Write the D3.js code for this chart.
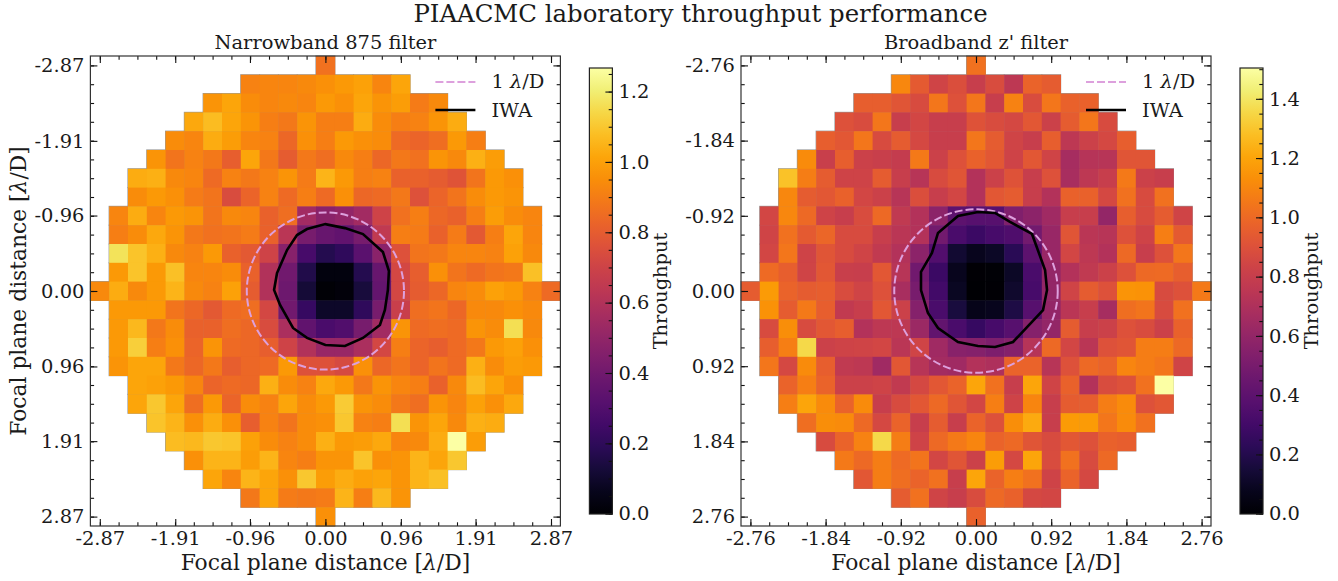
<!DOCTYPE html>
<html>
<head>
<meta charset="utf-8">
<script src="https://cdn.jsdelivr.net/npm/d3@7"></script>
<style>
  html, body { margin: 0; padding: 0; background: #fff; }
  svg { display: block; }
  text { font-family: "DejaVu Serif", serif; fill: #1a1a1a; }
</style>
</head>
<body>
<svg width="1338" height="581"></svg>
<script>
// first masked-in column of each row, the grid is left/right symmetric
var firstCol = [12, 8, 6, 5, 4, 3, 2, 2, 1, 1, 1, 1, 0, 1, 1, 1, 1, 2, 2, 3, 4, 5, 6, 8, 12];

var narrowRows = [
  [.87],
  [.92,.93,.93,.94,.96,.98,1.0,.93,1.01],
  [.97,1.01,.95,.93,.94,.93,.98,.96,1.01,.97,.99,.9,.94],
  [1.02,1.07,1.01,.97,.91,.89,.97,.91,.91,1.03,.95,.91,.92,.97,1.03],
  [.95,.93,1.03,.99,.93,.92,.84,.96,.91,.98,.96,.95,.85,.83,.86,.98,.91],
  [.97,.88,.92,.89,.81,1.01,.89,.8,.89,.86,.94,.91,.84,.89,.87,.97,.94,1.04,.99],
  [1.03,1.04,.94,.93,.85,.92,.89,.92,.97,.9,1.05,.98,.91,.92,.82,.82,.8,.77,.88,.98,.96],
  [.95,.98,.96,.9,.88,.74,.83,.92,.85,.91,.85,.96,.84,.85,.89,.76,.83,.88,.95,.98,.97],
  [.93,1.03,.93,.98,.97,.88,.94,.93,.82,.86,.55,.48,.5,.55,.7,.87,.91,.84,.82,.91,.99,.95,.93],
  [.91,.95,1.02,.97,.89,.87,.88,.9,.82,.63,.42,.37,.35,.42,.65,.91,.9,.82,.9,.79,.91,1.01,.93],
  [1.17,1.09,1.04,.94,.92,.98,.82,.79,.7,.47,.27,.17,.2,.33,.48,.76,.88,.89,.93,.93,.92,1.0,.94],
  [.98,1.09,.98,1.08,.93,.93,.95,.82,.6,.4,.16,.03,.03,.17,.37,.72,.81,.96,.88,.85,.88,.89,1.08],
  [.94,1.03,.94,.98,1.05,.94,.92,1.0,.8,.6,.39,.12,.01,.02,.13,.36,.72,.8,.84,.93,.95,1.0,.98,.92,.85],
  [.98,.98,.98,.88,.84,.79,.85,.86,.72,.4,.22,.09,.09,.2,.42,.68,.86,.88,.84,.94,.94,.96,.94],
  [.98,1.06,.89,.95,.82,.82,.86,.84,.74,.58,.35,.28,.3,.42,.55,.97,.85,.86,.85,.97,.95,1.16,.94],
  [.98,1.12,.91,.96,.83,.97,.85,.84,.81,.7,.6,.52,.52,.58,.72,.91,.83,.81,.85,.89,.98,1.0,.96],
  [.97,1.01,1.01,.89,.84,.89,.81,.84,.85,.98,.76,.76,.73,.96,.84,.88,.83,.88,.85,1.04,.95,.99,.98],
  [1.01,1.0,.98,.93,.83,.85,.84,1.04,.95,.92,1.02,.98,.89,.97,.93,.91,.82,.94,1.07,1.01,.96],
  [1.01,1.1,1.01,.86,.98,.83,.95,.92,1.01,.95,.98,1.11,.97,.95,.89,.86,.97,.93,1.0,.96,1.02],
  [1.09,1.05,.96,1.03,.96,.81,.92,.88,.95,.96,1.1,.92,.91,1.16,.97,1.01,.94,1.04,1.03],
  [1.07,1.06,1.1,1.09,1.0,.95,.92,.95,1.04,.98,.99,1.02,.93,.94,1.03,1.27,.99],
  [.96,1.05,1.05,.99,1.05,.93,.91,.97,.97,1.09,.96,.97,1.05,1.01,1.1],
  [1.01,.93,1.05,1.01,.96,1.1,.99,1.03,1.0,1.01,.97,1.05,1.08],
  [.89,1.01,.9,.89,.9,1.05,.91,1.06,.97],
  [.96]
];

var broadRows = [
  [1.03],
  [1.11,.94,.84,.89,.8,.88,.76,.98,.95],
  [.96,.96,.92,.87,1.05,.9,1.05,.8,1.09,.88,1.05,.97,.97],
  [.9,.88,1.05,.8,.85,.8,.8,.91,.88,.86,.93,.82,.95,1.05,.87],
  [.96,.93,1.05,.87,.95,.86,.8,.8,1.05,.95,.84,.8,.96,.76,.82,.86,.96],
  [1.12,.81,.96,.82,.81,.79,1.06,.82,.9,.97,.93,.83,.93,.84,.67,.73,.74,.92,.92],
  [1.29,1.07,.95,.83,.83,.95,.8,.74,.87,.92,.72,.82,.91,.8,.9,.68,.76,.8,1.06,.82,.8],
  [1.11,.95,.93,.97,.85,.82,.74,.89,.8,.85,.72,.93,.95,.8,.72,.97,.97,.86,1.03,.87,1.03],
  [.85,1.11,1.0,.83,.8,.88,1.0,.77,.72,.57,.4,.38,.38,.53,.57,.65,.8,.8,.6,.96,.87,.95,.84],
  [.84,1.03,.94,.99,.87,.87,.8,.75,.72,.48,.33,.28,.32,.35,.48,.62,.92,.75,.74,.9,.83,1.08,.94],
  [.85,1.05,.83,.92,.87,.84,.78,.72,.57,.36,.13,.08,.1,.22,.4,.62,.85,.76,.72,1.0,.8,.9,1.05],
  [1.01,.96,.84,.93,.81,.8,.93,.74,.47,.28,.08,.01,.015,.1,.33,.6,.72,.77,.82,.9,1.0,1.01,.96],
  [.95,1.17,.98,.95,.96,.88,.84,.9,.68,.5,.3,.09,.005,.01,.12,.32,.6,.84,.95,.9,1.15,1.14,.87,.9,1.06],
  [1.14,.95,1.06,.96,.78,.8,.93,.82,.55,.33,.16,.07,.08,.18,.38,.6,.75,.8,.67,1.02,1.04,.87,1.03],
  [.87,1.13,.87,.93,.96,.72,.76,.76,.63,.42,.33,.26,.32,.38,.55,.6,.95,.8,.82,.9,.88,.82,.97],
  [.96,1.08,1.36,.82,.83,.84,.85,.75,.84,.65,.56,.55,.52,.55,.73,1.0,.85,.75,.9,.92,1.07,1.07,1.0],
  [1.05,.86,1.12,.96,.77,.76,.65,.93,.74,.66,.65,.72,.7,.98,.98,.74,.9,1.0,.98,1.1,1.07,1.05,.84],
  [.98,1.08,.98,.82,.82,.83,.78,.86,.93,.98,1.2,1.03,.8,1.2,.84,.97,.72,.88,.9,1.03,1.5],
  [1.08,1.2,1.12,.98,1.12,.8,.87,.93,1.0,.92,.85,1.08,.83,1.1,.8,.95,.96,1.07,1.12,.9,.93],
  [1.02,1.13,1.12,1.0,.86,.98,.8,.95,.8,.98,.9,1.13,1.22,.8,1.17,1.17,1.05,1.12,1.03],
  [.87,.98,1.09,1.36,1.07,.83,1.0,1.06,1.1,.98,1.0,.92,.87,.93,.9,.97,.96],
  [1.06,1.0,1.07,1.01,1.04,.85,.92,.82,1.18,.86,1.2,.88,1.03,.87,1.0],
  [.93,1.07,1.02,.98,1.03,.8,1.2,.98,1.08,1.03,.83,.98,.86],
  [.95,1.03,.84,.8,.88,1.0,.97,.86,.85],
  [.97]
];

var narrowTicks = ["-2.87", "-1.91", "-0.96", "0.00", "0.96", "1.91", "2.87"];
var broadTicks = ["-2.76", "-1.84", "-0.92", "0.00", "0.92", "1.84", "2.76"];

// IWA contours in lambda/D
var narrowIwaX = [-.615,-.488,-.361,-.234,0,.249,.478,.732,.808,.795,.757,.694,.478,.249,0,-.234,-.412,-.577,-.653];
var narrowIwaY = [-.229,-.521,-.712,-.788,-.851,-.8,-.724,-.496,-.254,-.013,.241,.432,.597,.699,.686,.597,.47,.178,-.013];
var broadIwaX = [-.673,-.539,-.465,-.22,.024,.233,.416,.685,.845,.869,.82,.453,.233,.024,-.22,-.465,-.588,-.673];
var broadIwaY = [-.233,-.465,-.71,-.918,-.967,-.955,-.845,-.698,-.257,-.012,.233,.624,.685,.673,.624,.453,.269,-.012];

var narrowMax = 1.267, broadMax = 1.504;
var narrowCbTicks = [0, .2, .4, .6, .8, 1.0, 1.2];
var broadCbTicks = [0, .2, .4, .6, .8, 1.0, 1.2, 1.4];

var svg = d3.select("svg");
var defs = svg.append("defs");
var nCells = 25;
var plotTop = 56, plotSize = 470;
var fs = 19.44;

function drawPanel(opt) {
    var step = +opt.ticks[6] / 12;
    var half = step * nCells / 2;
    var x = d3.scaleLinear().domain([-half, half]).range([opt.left, opt.left + plotSize]);
    var y = d3.scaleLinear().domain([-half, half]).range([plotTop, plotTop + plotSize]);
    var color = d3.scaleSequential(d3.interpolateInferno).domain([0, opt.vmax]);

    var cells = [];
    opt.rows.forEach(function(row, r) {
        row.forEach(function(v, i) {
            cells.push({r: r, c: firstCol[r] + i, v: v});
        });
    });
    var cx = function(c) { return (c - 12) * step; };
    var w = x(step) - x(0);

    var g = svg.append("g");
    // thin grey outline round the masked area
    g.selectAll(".edge").data(cells).enter().append("rect")
        .attr("x", function(d) { return x(cx(d.c) - step / 2); })
        .attr("y", function(d) { return y(cx(d.r) - step / 2); })
        .attr("width", w).attr("height", w)
        .attr("fill", "none").attr("stroke", "#999").attr("stroke-width", 1.2);
    g.selectAll(".cell").data(cells).enter().append("rect")
        .attr("x", function(d) { return x(cx(d.c) - step / 2); })
        .attr("y", function(d) { return y(cx(d.r) - step / 2); })
        .attr("width", w + .4).attr("height", w + .4)
        .attr("fill", function(d) { return color(d.v); });

    // 1 lambda/D circle and IWA contour
    g.append("circle")
        .attr("cx", x(0)).attr("cy", y(0)).attr("r", x(1) - x(0))
        .attr("fill", "none").attr("stroke", "#dda0dd").attr("stroke-width", 2)
        .attr("stroke-dasharray", "8,3");
    var line = d3.line().x(function(d) { return x(d[0]); }).y(function(d) { return y(d[1]); });
    g.append("path")
        .attr("d", line(d3.zip(opt.iwaX, opt.iwaY)) + "Z")
        .attr("fill", "none").attr("stroke", "#000").attr("stroke-width", 2.6);

    // ticks point inwards on all four sides
    var major = opt.ticks.map(Number);
    var minor = d3.range(nCells).map(function(c) { return cx(c); });
    var labelOf = function(d) { return opt.ticks[major.indexOf(d)]; };
    function addAxis(axisFn, scale, tx, ty) {
        [[minor, 3.7], [major, 7]].forEach(function(t) {
            var a = svg.append("g").attr("transform", "translate(" + tx + "," + ty + ")")
                .call(axisFn(scale).tickValues(t[0]).tickSize(-t[1]).tickFormat(""));
            a.select(".domain").remove();
            a.selectAll("line").attr("stroke", "#111").attr("stroke-width", 1.1);
        });
    }
    addAxis(d3.axisBottom, x, 0, plotTop + plotSize);
    addAxis(d3.axisTop, x, 0, plotTop);
    addAxis(d3.axisLeft, y, opt.left, 0);
    addAxis(d3.axisRight, y, opt.left + plotSize, 0);
    // labels are drawn separately because tick direction and label side are opposite
    var xl = svg.append("g").attr("transform", "translate(0," + (plotTop + plotSize) + ")")
        .call(d3.axisBottom(x).tickValues(major).tickSize(0).tickPadding(5).tickFormat(labelOf));
    xl.select(".domain").remove();
    var yl = svg.append("g").attr("transform", "translate(" + opt.left + ",0)")
        .call(d3.axisLeft(y).tickValues(major).tickSize(0).tickPadding(6).tickFormat(labelOf));
    yl.select(".domain").remove();
    xl.selectAll("text").attr("font-size", fs);
    yl.selectAll("text").attr("font-size", fs);

    svg.append("rect")
        .attr("x", opt.left).attr("y", plotTop).attr("width", plotSize).attr("height", plotSize)
        .attr("fill", "none").attr("stroke", "#333").attr("stroke-width", 1.2);

    // subplot title
    svg.append("text").attr("x", opt.left + plotSize / 2).attr("y", 48.5)
        .attr("text-anchor", "middle").attr("font-size", fs).text(opt.title);

    // x label
    axisText(svg.append("text").attr("x", opt.left + plotSize / 2).attr("y", 570)
        .attr("text-anchor", "middle").attr("font-size", 21.8));

    // legend
    var lx = opt.left + 345;
    svg.append("line").attr("x1", lx).attr("x2", lx + 40).attr("y1", 82).attr("y2", 82)
        .attr("stroke", "#dda0dd").attr("stroke-width", 2).attr("stroke-dasharray", "8,3");
    svg.append("line").attr("x1", lx).attr("x2", lx + 40).attr("y1", 110).attr("y2", 110)
        .attr("stroke", "#000").attr("stroke-width", 2.6);
    var t1 = svg.append("text").attr("x", lx + 56).attr("y", 88).attr("font-size", fs);
    t1.append("tspan").text("1 ");
    t1.append("tspan").attr("font-style", "italic").text("\u03bb");
    t1.append("tspan").text("/D");
    svg.append("text").attr("x", lx + 56).attr("y", 117).attr("font-size", fs).text("IWA");

    // colorbar
    var cbX = opt.left + plotSize + 29, cbW = 23, cbTop = 68, cbBottom = 514;
    var cy = d3.scaleLinear().domain([0, opt.vmax]).range([cbBottom - .3, cbTop]);
    var gradId = "grad" + Math.round(opt.left);
    var grad = defs.append("linearGradient").attr("id", gradId)
        .attr("x1", 0).attr("x2", 0).attr("y1", 1).attr("y2", 0);
    d3.range(0, 1.0001, .05).forEach(function(t) {
        grad.append("stop").attr("offset", t).attr("stop-color", d3.interpolateInferno(t));
    });
    svg.append("rect").attr("x", cbX).attr("y", cbTop).attr("width", cbW).attr("height", cbBottom - cbTop)
        .attr("fill", "url(#" + gradId + ")");
    [[d3.range(0, opt.vmax, .05), 3.7], [opt.cbTicks, 7]].forEach(function(t) {
        var a = svg.append("g").attr("transform", "translate(" + (cbX + cbW) + ",0)")
            .call(d3.axisLeft(cy).tickValues(t[0]).tickSize(t[1]).tickFormat(""));
        a.select(".domain").remove();
        a.selectAll("line").attr("stroke", "#111").attr("stroke-width", 1.1);
    });
    var cl = svg.append("g").attr("transform", "translate(" + (cbX + cbW) + ",0)")
        .call(d3.axisRight(cy).tickValues(opt.cbTicks).tickSize(0).tickPadding(6).tickFormat(d3.format(".1f")));
    cl.select(".domain").remove();
    cl.selectAll("text").attr("font-size", fs);
    svg.append("rect").attr("x", cbX).attr("y", cbTop).attr("width", cbW).attr("height", cbBottom - cbTop)
        .attr("fill", "none").attr("stroke", "#222").attr("stroke-width", 1.2);
    svg.append("text")
        .attr("transform", "translate(" + (cbX + cbW + 55) + ",291) rotate(-90)")
        .attr("text-anchor", "middle").attr("font-size", fs).text("Throughput");
}

function axisText(sel) {
    sel.append("tspan").text("Focal plane distance [");
    sel.append("tspan").attr("font-style", "italic").text("\u03bb");
    sel.append("tspan").text("/D]");
}

drawPanel({left: 90.4, rows: narrowRows, ticks: narrowTicks, vmax: narrowMax, cbTicks: narrowCbTicks,
    iwaX: narrowIwaX, iwaY: narrowIwaY, title: "Narrowband 875 filter"});
drawPanel({left: 741, rows: broadRows, ticks: broadTicks, vmax: broadMax, cbTicks: broadCbTicks,
    iwaX: broadIwaX, iwaY: broadIwaY, title: "Broadband z' filter"});

svg.append("text").attr("x", 700.5).attr("y", 22).attr("text-anchor", "middle")
    .attr("font-size", 24.4).text("PIAACMC laboratory throughput performance");
axisText(svg.append("text")
    .attr("transform", "translate(25.5,291) rotate(-90)")
    .attr("text-anchor", "middle").attr("font-size", 21.8));
</script>
</body>
</html>
